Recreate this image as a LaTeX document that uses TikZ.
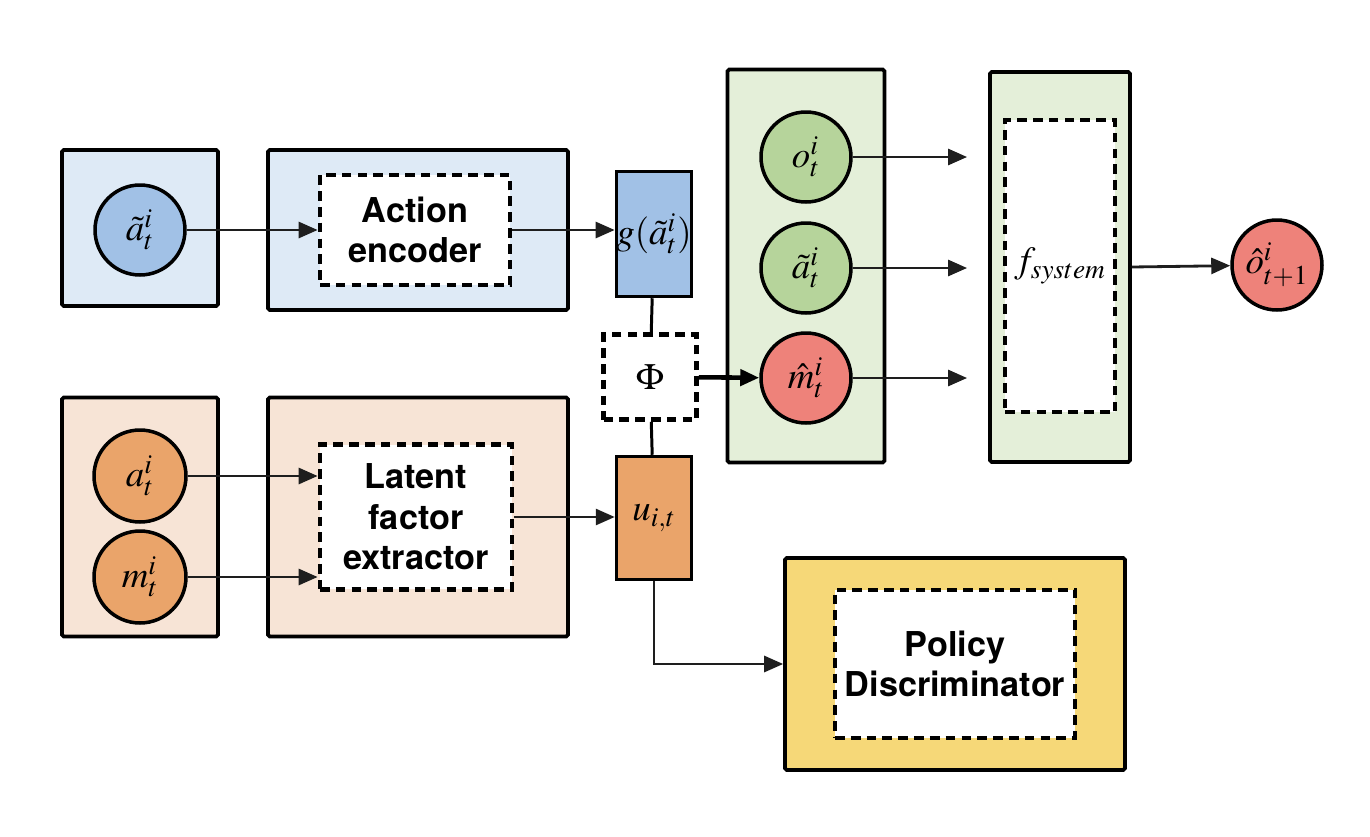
\documentclass[tikz,border=0pt]{standalone}
\usepackage{amsmath}
\usepackage{mathptmx}
\usepackage{fontspec}
\setsansfont{TeX Gyre Heros}
\usepackage{tikz}
\usetikzlibrary{positioning,arrows.meta}

\definecolor{bluelight}{RGB}{222,234,246}
\definecolor{bluemid}{RGB}{161,193,230}
\definecolor{orangelight}{RGB}{247,228,214}
\definecolor{orangemid}{RGB}{234,164,106}
\definecolor{greenlight}{RGB}{228,239,217}
\definecolor{greenmid}{RGB}{182,212,155}
\definecolor{redmid}{RGB}{238,130,122}
\definecolor{yellowmid}{RGB}{246,216,120}
\definecolor{inkline}{RGB}{30,30,30}

\tikzset{
  panel/.style={draw=black, line width=2.1pt, rounded corners=1pt},
  module/.style={draw=black, fill=white, line width=2.7pt, dash pattern=on 5.5pt off 3.5pt,
    align=center, font=\sffamily\bfseries\fontsize{19.5}{23}\selectfont},
  var/.style={circle, draw=black, line width=2pt, minimum size=1.8cm, inner sep=0pt,
    font=\fontsize{21}{24}\selectfont},
  block/.style={draw=black, line width=2pt, minimum width=1.5cm, inner sep=0pt,
    font=\fontsize{21}{24}\selectfont},
  flow/.style={draw=inkline, line width=1.6pt, -{Triangle[length=0.38cm,width=0.32cm]}},
  link/.style={draw=black, line width=1.7pt},
}

\begin{document}
\begin{tikzpicture}[x=0.02cm, y=-0.02cm]
  \useasboundingbox (0,0) rectangle (1370,836);

  % Define nodes
  \node[panel, fill=bluelight, minimum width=3.12cm, minimum height=3.12cm] (atpanel) at (140,228) {};
  \node[var, fill=bluemid] (atil) at (140,230) {$\tilde{a}_t^i$};
  \node[panel, fill=bluelight, minimum width=6cm, minimum height=3.2cm] (encpanel) at (418,230) {};
  \node[module, minimum width=3.8cm, minimum height=2.2cm] (enc) at (415,230) {Action\\encoder};
  \node[block, fill=bluemid, minimum height=2.5cm] (g) at (654,234) {$g(\tilde{a}_t^i)$};
  \node[module, minimum width=1.86cm, minimum height=1.7cm, font=\fontsize{21}{24}\selectfont] (phi) at (650,377) {$\Phi$};
  \node[block, fill=orangemid, minimum height=2.46cm] (u) at (654,518) {$u_{i,t}$};

  \node[panel, fill=orangelight, minimum width=3.12cm, minimum height=4.78cm] (obspanel) at (140,517) {};
  \node[var, fill=orangemid, minimum width=1.76cm, minimum height=1.84cm] (at) at (140,476) {$a_t^i$};
  \node[var, fill=orangemid, minimum width=1.76cm, minimum height=1.84cm] (mt) at (140,577) {$m_t^i$};
  \node[panel, fill=orangelight, minimum width=6cm, minimum height=4.78cm] (latpanel) at (418,517) {};
  \node[module, minimum width=3.84cm, minimum height=2.9cm] (lat) at (416,517) {Latent\\factor\\extractor};

  \node[panel, fill=greenlight, minimum width=3.14cm, minimum height=7.86cm] (inpanel) at (806,266) {};
  \node[var, fill=greenmid] (ot) at (806,157) {$o_t^i$};
  \node[var, fill=greenmid] (atg) at (806,268) {$\tilde{a}_t^i$};
  \node[var, fill=redmid] (mhat) at (806,378) {$\hat{m}_t^i$};
  \node[panel, fill=greenlight, minimum width=2.8cm, minimum height=7.8cm] (syspanel) at (1060,267) {};
  \node[module, minimum width=2.2cm, minimum height=5.84cm, font=\fontsize{21}{24}\selectfont] (fsys) at (1060,266) {$f_{system}$};
  \node[var, fill=redmid] (ohat) at (1277,265) {$\hat{o}_{t+1}^i$};

  \node[panel, fill=yellowmid, minimum width=6.8cm, minimum height=4.24cm] (polpanel) at (955,664) {};
  \node[module, minimum width=4.8cm, minimum height=2.96cm] (pol) at (955,664) {Policy\\Discriminator};

  % Connect the nodes
  \draw[flow] (atil) -- (enc);
  \draw[flow] (enc.east) -- (g.west |- enc.east);
  \draw[link] (g) -- (phi);
  \draw[link] (phi) -- (u);
  \draw[flow, line width=2.6pt, draw=black] (phi) -- (mhat);
  \draw[flow] (at.east) -- (at.east -| lat.west);
  \draw[flow] (mt.east) -- (mt.east -| lat.west);
  \draw[flow] (lat.east) -- (u.west |- lat.east);
  \draw[flow] (u.south) |- (polpanel.west);
  \foreach \v in {ot, atg, mhat}
    \draw[flow, shorten >=12] (\v.east) -- (\v.east -| syspanel.west);
  \draw[flow] (syspanel.east) -- (ohat);

\end{tikzpicture}
\end{document}
